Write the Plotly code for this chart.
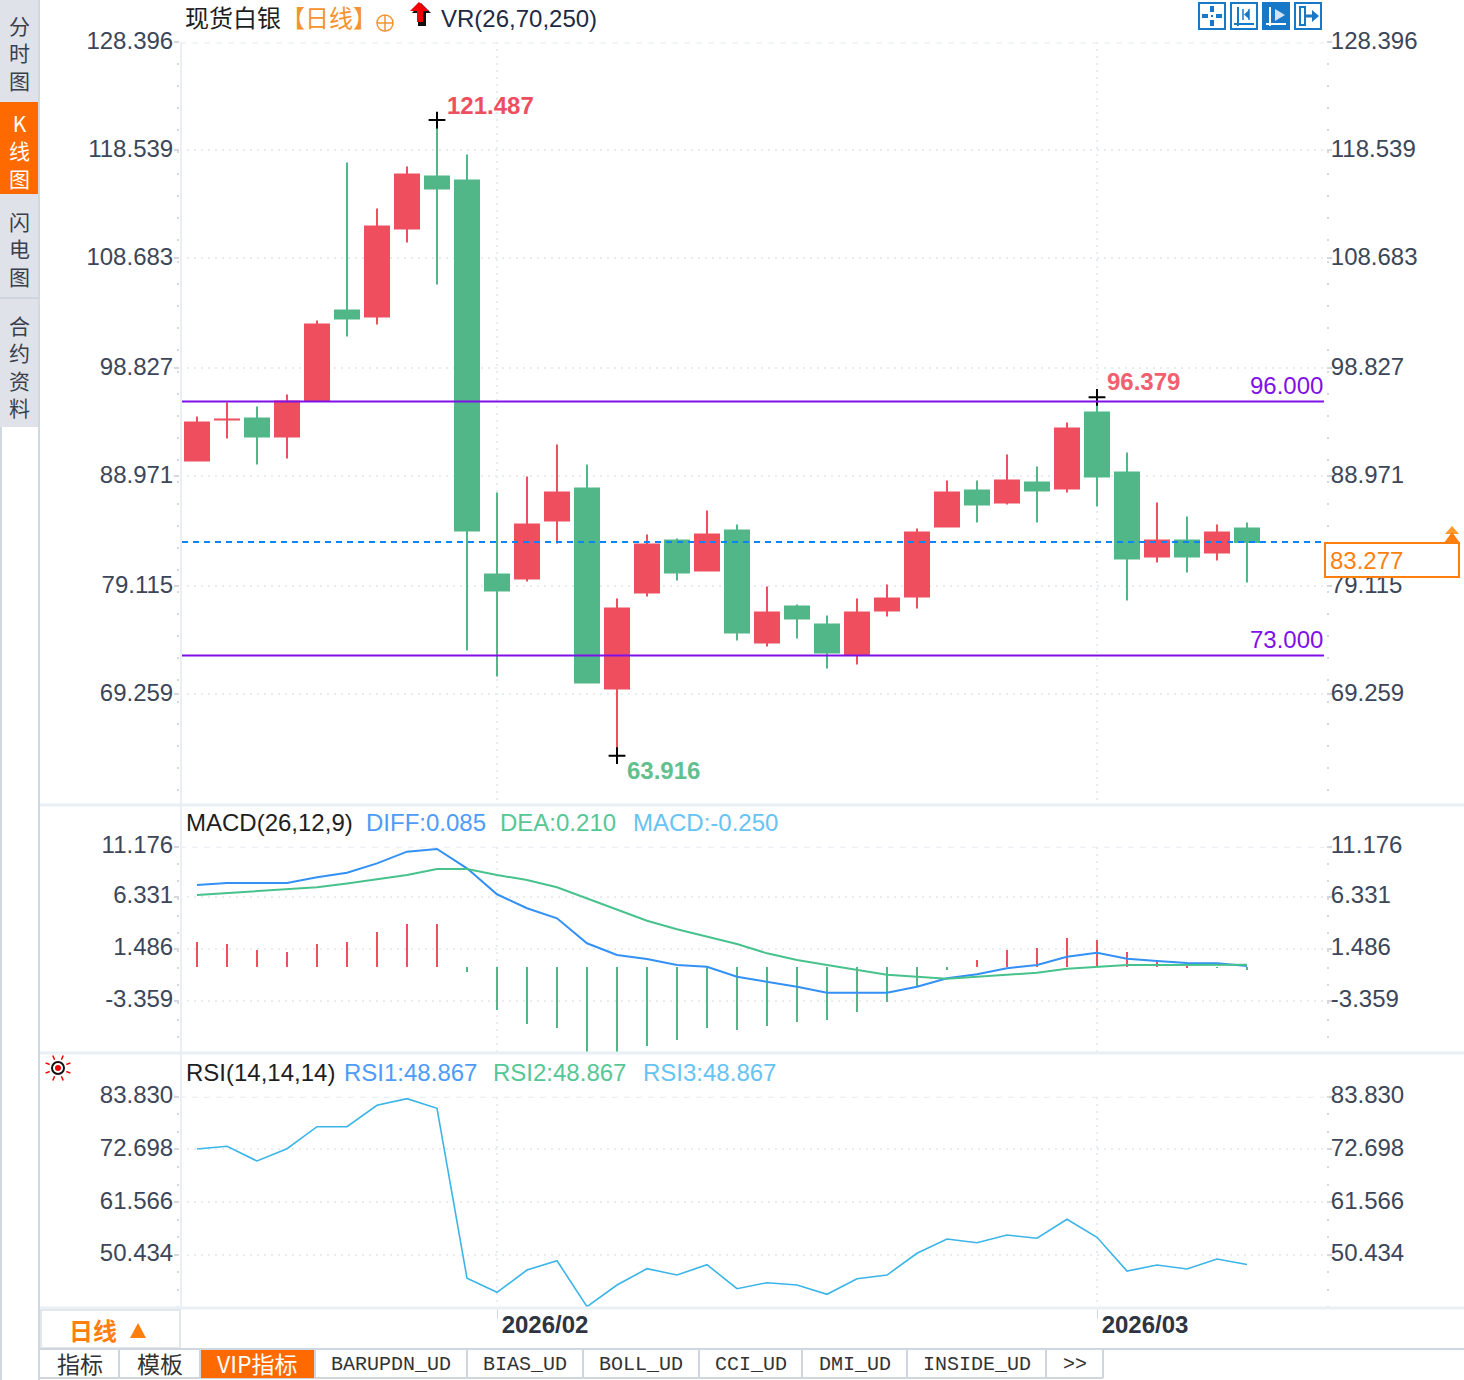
import math
import plotly.graph_objects as go

W, H = 1464, 1380

# ---------- data ----------
idx = list(range(36))
opens = [90.66, 94.37, 94.46, 92.83, 96.09, 104.24, 103.70, 111.67, 116.38, 116.02, 80.33, 79.97,
         85.22, 88.12, 70.00, 78.70, 83.41, 80.69, 84.32, 74.17, 77.43, 75.80, 73.08, 77.07,
         78.34, 84.68, 87.94, 86.85, 88.66, 88.12, 95.00, 89.57, 81.96, 83.41, 82.32, 84.50]
highs = [94.64, 95.91, 95.55, 96.63, 103.34, 117.65, 113.48, 117.29, 121.487, 118.37, 87.76, 89.21,
         92.10, 90.29, 78.16, 83.95, 83.59, 86.13, 84.86, 79.24, 77.61, 76.62, 78.16, 79.42,
         84.50, 88.84, 88.84, 91.20, 90.11, 94.10, 96.379, 91.38, 86.85, 85.58, 84.86, 85.04]
lows = [90.66, 92.65, 90.29, 90.84, 96.09, 101.89, 102.97, 110.40, 106.60, 73.45, 71.09, 79.70,
        83.14, 70.55, 63.916, 78.34, 79.79, 80.69, 74.35, 73.81, 74.53, 71.81, 72.18, 76.52,
        77.25, 84.68, 85.04, 86.67, 85.04, 87.76, 86.49, 77.97, 81.42, 80.51, 81.60, 79.61]
closes = [94.10, 94.38, 92.83, 96.00, 102.97, 103.52, 111.85, 116.56, 115.29, 84.32, 78.88, 84.86,
          87.76, 70.55, 77.25, 83.05, 80.51, 83.95, 75.08, 76.89, 76.34, 73.26, 76.89, 78.16,
          84.13, 87.76, 86.67, 88.84, 87.94, 93.55, 89.21, 81.78, 83.41, 81.96, 84.13, 83.277]

diff = [7.74, 7.92, 7.92, 7.92, 8.46, 8.90, 9.78, 10.88, 11.13, 9.31, 6.86, 5.54,
        4.59, 2.24, 1.13, 0.75, 0.19, 0.03, -0.92, -1.39, -1.86, -2.42, -2.42, -2.42,
        -1.86, -1.07, -0.69, -0.12, 0.19, 0.97, 1.35, 0.78, 0.57, 0.38, 0.35, 0.085]
dea = [6.79, 6.98, 7.17, 7.36, 7.52, 7.88, 8.30, 8.68, 9.25, 9.25, 8.68, 8.21,
       7.52, 6.48, 5.38, 4.37, 3.56, 2.86, 2.17, 1.29, 0.66, 0.19, -0.28, -0.73,
       -0.92, -1.10, -0.92, -0.75, -0.54, -0.16, 0.03, 0.19, 0.19, 0.19, 0.19, 0.21]
macd = [2.36, 2.17, 1.60, 1.42, 2.17, 2.36, 3.30, 4.06, 4.06, -0.47, -4.06, -5.38,
        -5.75, -8.5, -8.8, -7.45, -6.89, -5.75, -5.94, -5.57, -5.16, -5.00, -4.25, -3.30,
        -1.79, -0.28, 0.66, 1.60, 1.79, 2.74, 2.55, 1.42, 0.66, 0.09, -0.05, -0.25]
rsi = [72.78, 73.35, 70.25, 72.85, 77.49, 77.49, 82.01, 83.41, 81.38, 45.47, 42.51, 47.22,
       49.19, 39.47, 44.05, 47.50, 46.16, 48.34, 43.27, 44.54, 44.05, 42.09, 45.38, 46.16,
       50.75, 53.77, 52.99, 54.61, 53.92, 57.93, 54.13, 47.01, 48.28, 47.43, 49.55, 48.40]

price_tick_pos = [128.52, 118.74, 108.96, 98.99, 89.21, 79.25, 69.47]
price_tick_txt = ["128.396", "118.539", "108.683", "98.827", "88.971", "79.115", "69.259"]
macd_tick_pos = [11.35, 6.63, 1.73, -3.18]
macd_tick_txt = ["11.176", "6.331", "1.486", "-3.359"]
rsi_tick_pos = [83.83, 72.698, 61.566, 50.434]
rsi_tick_txt = ["83.830", "72.698", "61.566", "50.434"]
date_ticks = [10, 30]
date_txt = ["2026/02", "2026/03"]
levels = [96.0, 73.0]
last_price = 83.277
hi1, hi2, lo1 = (8, 121.487), (30, 96.379), (14, 63.916)

# ---------- colours ----------
RED, GREEN = "#EE4E5E", "#52B788"
PURPLE = "#8010E8"
ORANGE = "#FF7F0E"
TICKC = "#3C4659"
GRID = "#E6ECF0"
SEP = "#E9EFF4"
BLUE = "#1878C8"
SANS = "Liberation Sans"
CJK = "Noto Sans CJK SC"
MONO = "Liberation Mono"


def px(x):
    return x / W


def py(y):
    return 1 - y / H


shapes, annos = [], []


def rect(x0, y0, x1, y1, fill=None, line=None, lw=1):
    shapes.append(dict(type="rect", xref="paper", yref="paper", x0=px(x0), x1=px(x1), y0=py(y0), y1=py(y1),
                       fillcolor=fill or "rgba(0,0,0,0)", line=dict(color=line or "rgba(0,0,0,0)", width=lw if line else 0)))


def seg(x0, y0, x1, y1, color, lw=1, dash="solid"):
    shapes.append(dict(type="line", xref="paper", yref="paper", x0=px(x0), x1=px(x1), y0=py(y0), y1=py(y1),
                       line=dict(color=color, width=lw, dash=dash)))


def poly(pts, fill):
    d = "M" + " L".join(f"{px(a):.5f},{py(b):.5f}" for a, b in pts) + " Z"
    shapes.append(dict(type="path", xref="paper", yref="paper", path=d, fillcolor=fill, line=dict(width=0)))


def circle(cx, cy, r, fill=None, line=None, lw=1):
    shapes.append(dict(type="circle", xref="paper", yref="paper", x0=px(cx - r), x1=px(cx + r), y0=py(cy + r), y1=py(cy - r),
                       fillcolor=fill or "rgba(0,0,0,0)", line=dict(color=line or "rgba(0,0,0,0)", width=lw if line else 0)))


def text(s, x, y, color="#222222", size=24, anchor="left", family=SANS, bold=False):
    annos.append(dict(text=f"<b>{s}</b>" if bold else s, xref="paper", yref="paper", x=px(x), y=py(y),
                      xanchor=anchor, yanchor="middle", showarrow=False,
                      font=dict(family=family, size=size, color=color), borderpad=0))


# ---------- traces ----------
fig = go.Figure()
fig.add_trace(go.Candlestick(
    x=idx, open=opens, high=highs, low=lows, close=closes, xaxis="x", yaxis="y", whiskerwidth=0,
    increasing=dict(line=dict(color=RED, width=2), fillcolor=RED),
    decreasing=dict(line=dict(color=GREEN, width=2), fillcolor=GREEN), hoverinfo="skip"))
fig.add_trace(go.Scatter(
    x=[hi1[0], hi2[0], lo1[0]], y=[hi1[1], hi2[1], lo1[1]], mode="markers", xaxis="x", yaxis="y", hoverinfo="skip",
    marker=dict(symbol="cross-thin", size=12, line=dict(color="#000000", width=2))))
fig.add_trace(go.Scatter(x=idx, y=diff, mode="lines", xaxis="x2", yaxis="y2", hoverinfo="skip",
                         line=dict(color="#3390F5", width=2)))
fig.add_trace(go.Scatter(x=idx, y=dea, mode="lines", xaxis="x2", yaxis="y2", hoverinfo="skip",
                         line=dict(color="#48C28C", width=2)))
fig.add_trace(go.Bar(x=idx, y=macd, xaxis="x2", yaxis="y2", width=0.07, hoverinfo="skip",
                     marker=dict(color=[RED if v >= 0 else GREEN for v in macd], line=dict(width=0))))
fig.add_trace(go.Scatter(x=idx, y=rsi, mode="lines", xaxis="x3", yaxis="y3", hoverinfo="skip",
                         line=dict(color="#3BB5E8", width=1.6)))
# invisible anchors so the right-hand axes are drawn
for ya, xa, v in (("y4", "x", price_tick_pos[0]), ("y5", "x2", macd_tick_pos[0]), ("y6", "x3", rsi_tick_pos[0])):
    fig.add_trace(go.Scatter(x=[0], y=[v], xaxis=xa, yaxis=ya, mode="markers", marker=dict(opacity=0, size=1),
                             hoverinfo="skip"))

# ---------- axes ----------
X0, X1 = 180, 1326
xr = [(X0 - 197) / 30, (X1 - 197) / 30]


def xaxis(**kw):
    d = dict(domain=[px(X0), px(X1)], range=xr, tickmode="array", tickvals=date_ticks, ticktext=["", ""],
             showgrid=True, gridcolor=GRID, gridwidth=2, griddash="2px,5px", zeroline=False, showline=False,
             ticks="", fixedrange=True, rangeslider=dict(visible=False))
    d.update(kw)
    return d


def yaxis(ytop, ybot, rng, pos, txt, minor_d, side="left", xa="x", overlay=None):
    d = dict(domain=[py(ybot), py(ytop)], range=rng, tickmode="array", tickvals=pos, ticktext=txt, side=side,
             anchor=xa, tickfont=dict(family=SANS, size=24, color=TICKC), ticks="outside", ticklen=5,
             ticklabelstandoff=-6 if side == "right" else -4, ticklabelshift=-2,
             tickwidth=2, tickcolor="#D5D9DD", zeroline=False, showline=False, fixedrange=True,
             minor=dict(ticks="outside", ticklen=2, tickwidth=2, tickcolor="#D5D9DD", dtick=minor_d,
                        tick0=pos[0], showgrid=False))
    if overlay:
        d.update(overlaying=overlay, showgrid=False)
    else:
        d.update(showgrid=True, gridcolor=GRID, gridwidth=2, griddash="2px,5px")
    return d


main_scale = 11.04
main_bot = 804
main_top = 401.5 - (price_tick_pos[0] - 96) * main_scale
main_rng = [96 - (main_bot - 401.5) / main_scale, price_tick_pos[0]]
macd_scale = 10.6
macd_bot = 1052
macd_top = 967 - macd_tick_pos[0] * macd_scale
macd_rng = [-(macd_bot - 967) / macd_scale, macd_tick_pos[0]]
rsi_top, rsi_bot = 1096.7, 1308
rsi_rng = [83.83 - (rsi_bot - rsi_top) / 4.734, 83.83]

fig.update_layout(
    xaxis=xaxis(),
    xaxis2=xaxis(anchor="y2"),
    xaxis3=xaxis(anchor="y3", ticks="outside", ticklen=10, tickwidth=1, tickcolor="#D5D9DD",
                 ticktext=date_txt, ticklabelshift=48, ticklabelstandoff=-15,
                 tickfont=dict(family=SANS, size=24, color="#2E3440", weight="bold")),
    yaxis=yaxis(main_top, main_bot, main_rng, price_tick_pos, price_tick_txt, 1.9928),
    yaxis2=yaxis(macd_top, macd_bot, macd_rng, macd_tick_pos, macd_tick_txt, 1.634, xa="x2"),
    yaxis3=yaxis(rsi_top, rsi_bot, rsi_rng, rsi_tick_pos, rsi_tick_txt, 3.71, xa="x3"),
    yaxis4=yaxis(main_top, main_bot, main_rng, price_tick_pos, price_tick_txt, 1.9928, side="right", overlay="y"),
    yaxis5=yaxis(macd_top, macd_bot, macd_rng, macd_tick_pos, macd_tick_txt, 1.634, side="right", xa="x2", overlay="y2"),
    yaxis6=yaxis(rsi_top, rsi_bot, rsi_rng, rsi_tick_pos, rsi_tick_txt, 3.71, side="right", xa="x3", overlay="y3"),
)

# ---------- data-linked guides and labels ----------
for v in levels:
    shapes.append(dict(type="line", xref="paper", yref="y", x0=px(180), x1=px(1324), y0=v, y1=v,
                       line=dict(color=PURPLE, width=2)))
    annos.append(dict(text=f"{v:.3f}", xref="paper", yref="y", x=px(1324), y=v, xanchor="right", yanchor="bottom",
                      yshift=1, showarrow=False, font=dict(family=SANS, size=24, color=PURPLE), borderpad=0))
shapes.append(dict(type="line", xref="paper", yref="y", x0=px(182), x1=px(1324), y0=last_price, y1=last_price,
                   line=dict(color="#0A84FF", width=2, dash="6px,5px")))
for yref, v in (("y", price_tick_pos[0]), ("y2", macd_tick_pos[0]), ("y3", rsi_tick_pos[0])):
    shapes.append(dict(type="line", xref="paper", yref=yref, x0=px(180), x1=px(1324), y0=v, y1=v,
                       line=dict(color=GRID, width=2, dash="6px,6px")))
for (i, v), col, ys in ((hi1, "#EE4E5E", 15), (hi2, "#F0606E", 16), (lo1, "#62C08F", -15)):
    annos.append(dict(text=f"<b>{v:.3f}</b>", xref="x", yref="y", x=i, y=v, xanchor="left", yanchor="middle",
                      xshift=9, yshift=ys, showarrow=False, font=dict(family=SANS, size=24, color=col), borderpad=0))
annos.append(dict(text=f"{last_price:.3f}", xref="paper", yref="paper", x=px(1324), y=py(560), xanchor="left",
                  yanchor="middle", showarrow=False, align="left", width=124, height=24, bgcolor="#FFFFFF",
                  bordercolor=ORANGE, borderwidth=2, borderpad=4,
                  font=dict(family=SANS, size=24, color=ORANGE)))

# ---------- panel chrome ----------
seg(181, 42, 181, 1308, SEP, 2)
for y in (805, 1053, 1308):
    seg(40, y, W, y, SEP, 3)
seg(39, 0, 39, H, "#D0D8E0", 2)
seg(1, 427, 1, H, "#D0D8E0", 2)

# left tabs
rect(0, 0, 38, 427, fill="#E0E2EA")
rect(0, 102, 38, 194, fill="#FF6A00")
seg(0, 298, 38, 298, "#CED5DE", 2)
text("分<br>时<br>图", 19, 52.5, color="#3A3F4A", anchor="center", family=CJK, size=21)
text("K<br>线<br>图", 19, 150.5, color="#FFFFFF", anchor="center", family=CJK, size=21)
text("闪<br>电<br>图", 19, 248, color="#3A3F4A", anchor="center", family=CJK, size=21)
text("合<br>约<br>资<br>料", 19, 366, color="#3A3F4A", anchor="center", family=CJK, size=21)

# titles
text("现货白银", 184, 16, color="#1E1E1E", family=CJK)
text("【日线】", 280, 16, color="#F59331", family=CJK)
text("VR(26,70,250)", 440, 19, color="#1E2A44")
text("MACD(26,12,9)", 185, 822, color="#1E1E1E")
text("DIFF:0.085", 365, 822, color="#4E9BF8")
text("DEA:0.210", 499, 822, color="#55C795")
text("MACD:-0.250", 632, 822, color="#66C3F2")
text("RSI(14,14,14)", 185, 1072, color="#1E1E1E")
text("RSI1:48.867", 343, 1072, color="#4E9BF8")
text("RSI2:48.867", 492, 1072, color="#55C795")
text("RSI3:48.867", 642, 1072, color="#66C3F2")

# target icon
circle(385, 23, 8, line="#F59331", lw=1.5)
seg(377, 23, 393, 23, "#F59331", 1.5)
seg(385, 15, 385, 31, "#F59331", 1.5)
# red arrow icon
poly([(421, 3), (431, 13), (426, 13), (426, 26), (418, 26), (418, 13), (412, 13)], "#111111")
poly([(419, 2), (429, 11), (423, 11), (423, 22), (417, 22), (417, 11), (410, 11)], "#F00000")

# toolbar icons
for x0 in (1198, 1230, 1294):
    rect(x0 + 1, 3, x0 + 27, 29, fill="#FFFFFF", line=BLUE, lw=2)
rect(1262, 2, 1290, 30, fill=BLUE)
rect(1202, 14, 1208, 18, fill=BLUE)
rect(1216, 14, 1222, 18, fill=BLUE)
rect(1210, 6, 1214, 12, fill=BLUE)
rect(1210, 20, 1214, 26, fill=BLUE)
rect(1211, 15, 1213, 17, fill=BLUE)
seg(1238, 7, 1238, 26, BLUE, 2)
seg(1234, 24, 1254, 24, BLUE, 2)
seg(1243, 9, 1243, 20, BLUE, 1.5)
seg(1249, 9, 1249, 20, BLUE, 1.5)
poly([(1249, 10), (1244, 14.5), (1249, 19)], BLUE)
seg(1270, 7, 1270, 26, "#FFFFFF", 2)
seg(1266, 24, 1286, 24, "#FFFFFF", 2)
poly([(1275, 9), (1285, 15), (1275, 21)], "#CFE3F5")
rect(1300, 7, 1305, 25, fill="#FFFFFF", line=BLUE, lw=2)
seg(1305, 16, 1314, 16, BLUE, 3)
poly([(1312, 10), (1319, 16), (1312, 22)], BLUE)

# last-price arrows
poly([(1452, 526), (1459, 534), (1445, 534)], "#FF9A2E")
poly([(1452, 532), (1460, 543), (1444, 543)], ORANGE)

# RSI sun icon
for k in range(8):
    a = math.pi / 8 + k * math.pi / 4
    seg(58 + 9 * math.cos(a), 1068 + 9 * math.sin(a), 58 + 13.5 * math.cos(a), 1068 + 13.5 * math.sin(a), "#F00000", 1.5)
circle(58, 1068, 6, fill="#FFFFFF", line="#111111", lw=2)
circle(58, 1068, 3, fill="#F00000")

# period box
rect(41, 1310, 180, 1348, fill="#FFFFFF", line="#E2E7EC", lw=2)
text("日线", 68, 1329, color=ORANGE, family=CJK, bold=True)
poly([(138, 1323), (146, 1338), (130, 1338)], ORANGE)

# bottom tabs
seg(40, 1349, W, 1349, "#CFD6DD", 2)
seg(40, 1378, 1103, 1378, "#CFD6DD", 2)
rect(200, 1350, 315, 1378, fill="#FF6A00")
for x in (119, 200, 315, 467, 583, 699, 802, 907, 1046, 1103):
    seg(x, 1349, x, 1378, "#CFD6DD", 2)
text("指标", 80, 1363, color="#333333", anchor="center", family=CJK, size=23)
text("模板", 160, 1363, color="#333333", anchor="center", family=CJK, size=23)
text("VIP指标", 257, 1363, color="#FFFFFF", anchor="center", family=CJK, size=23)
for s, x in (("BARUPDN_UD", 391), ("BIAS_UD", 525), ("BOLL_UD", 641), ("CCI_UD", 751), ("DMI_UD", 855),
             ("INSIDE_UD", 977), (">>", 1075)):
    text(s, x, 1364, color="#333333", anchor="center", family=MONO, size=20)

fig.update_layout(
    width=W, height=H, autosize=False, margin=dict(l=0, r=0, t=0, b=0, pad=0, autoexpand=False), showlegend=False,
    paper_bgcolor="#FFFFFF", plot_bgcolor="#FFFFFF", boxgap=0.2, boxgroupgap=0, bargap=0,
    shapes=shapes, annotations=annos, font=dict(family=SANS),
)

fig.write_html("out.html", config={"displayModeBar": False},
               post_script="document.body.style.margin='0';document.documentElement.style.overflow='hidden';")
